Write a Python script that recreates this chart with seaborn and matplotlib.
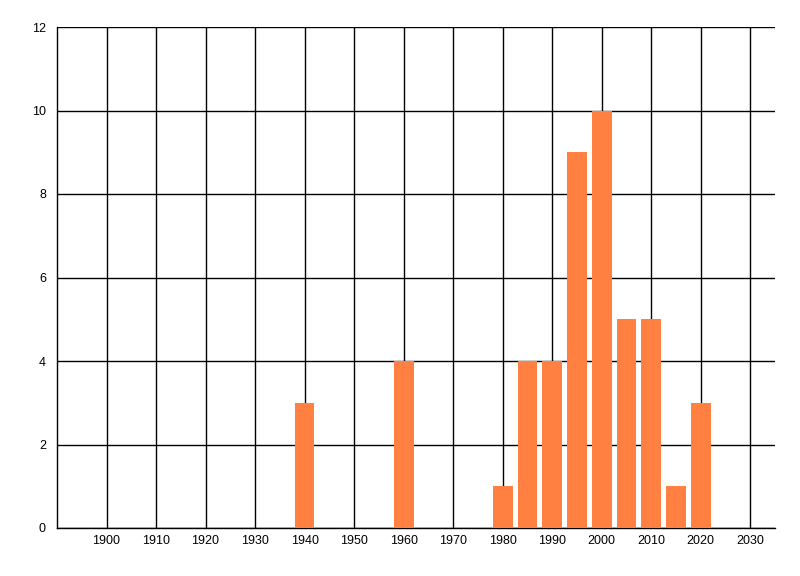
import matplotlib
matplotlib.use('Agg')
import matplotlib.pyplot as plt
import seaborn as sns
import pandas as pd

years = [1940, 1960, 1980, 1985, 1990, 1995, 2000, 2005, 2010, 2015, 2020]
counts = [3, 4, 1, 4, 4, 9, 10, 5, 5, 1, 3]
x_ticks = list(range(1900, 2031, 10))
y_ticks = list(range(0, 13, 2))

df = pd.DataFrame({'Year': years, 'Count': counts})

sns.set_style('white')
plt.rcParams['font.family'] = ['Liberation Sans', 'DejaVu Sans']

fig = plt.figure(figsize=(8, 5.76), dpi=100)
ax = fig.add_axes([57/800, 48/576, 718/800, 501/576])

sns.barplot(x='Year', y='Count', data=df, native_scale=True, width=0.8,
            color='#FF8040', saturation=1, linewidth=0, ax=ax, zorder=3)

ax.set_xlim(1890, 2035)
ax.set_ylim(0, 12)
ax.set_xticks(x_ticks)
ax.set_yticks(y_ticks)
ax.grid(True, color='black', linewidth=1)
ax.set_axisbelow(True)
for s in ['top', 'right']:
    ax.spines[s].set_visible(False)
for s in ['left', 'bottom']:
    ax.spines[s].set_color('black')
    ax.spines[s].set_linewidth(1)
ax.tick_params(axis='y', length=6, width=1, color='black', labelcolor='black',
               labelsize=9, pad=2)
ax.tick_params(axis='x', length=0, labelcolor='black', labelsize=9, pad=5)
ax.set_xlabel('')
ax.set_ylabel('')

plt.savefig('out.png')
